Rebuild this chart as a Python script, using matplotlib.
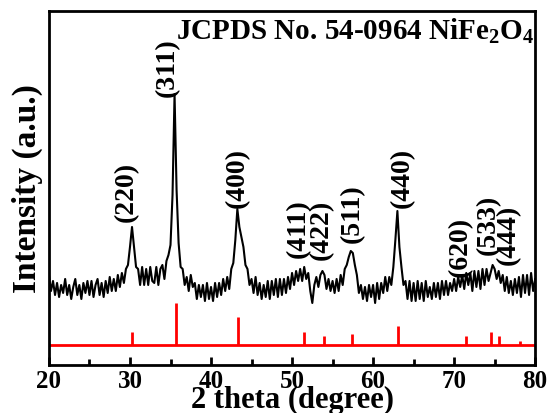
import matplotlib
matplotlib.use('Agg')
import matplotlib.pyplot as plt
import numpy as np

plt.rcParams['font.family'] = 'Liberation Serif'
plt.rcParams['font.weight'] = 'bold'
plt.rcParams['mathtext.fontset'] = 'custom'
plt.rcParams['mathtext.rm'] = 'Liberation Serif:bold'
plt.rcParams['mathtext.bf'] = 'Liberation Serif:bold'
plt.rcParams['mathtext.default'] = 'bf'

# --- datos del difractograma (2 theta de 20 a 80, paso 0.25) ---
two_theta = np.arange(20, 80.001, 0.25)
intensidad = [
    90, 74, 84, 70,   82, 68, 80, 72,   86, 70, 80, 66,   78, 86, 70, 80,
    66, 82, 72, 84,   70, 84, 68, 80,   86, 70, 82, 68,   84, 72, 88, 74,
    86, 74, 90, 78,   92, 82, 96, 100,  118, 138, 118, 98, 96, 80, 98, 80,
    96, 80, 98, 84,   82, 98, 80, 96,   100, 86, 104, 110, 120, 170, 271, 175,
    122, 98, 96, 80,  88, 74, 90, 78,   82, 66, 80, 68,   80, 64, 82, 66,
    78, 64, 82, 68,   82, 70, 86, 74,   88, 76, 96, 102,  125, 156, 138, 128,
    118, 100, 96, 80, 86, 72, 88, 70,   82, 66, 80, 68,   84, 66, 84, 70,
    86, 68, 86, 70,   86, 72, 88, 76,   92, 80, 94, 84,   96, 84, 98, 86,
    92, 74, 62, 80,   88, 78, 90, 94,   90, 76, 86, 74,   84, 72, 86, 74,
    90, 80, 96, 100,  108, 114, 112, 100, 90, 72, 80, 66, 78, 64, 80, 68,
    80, 62, 82, 66,   82, 72, 88, 74,   88, 80, 98, 125,  154, 118, 98, 80,
    84, 66, 84, 64,   82, 64, 84, 66,   82, 64, 84, 68,   78, 66, 82, 68,
    82, 66, 84, 70,   84, 70, 82, 74,   86, 74, 88, 78,   90, 76, 92, 80,
    92, 74, 94, 78,   94, 76, 96, 80,   96, 84, 92, 100,  96, 86, 94, 82,
    90, 74, 88, 72,   84, 70, 86, 72,   88, 68, 90, 72,   90, 70, 92, 74,
    86,
]

# --- patrón de referencia JCPDS 54-0964 ---
ref_pos = [30.3, 35.7, 43.35, 51.5, 53.95, 57.4, 63.05, 71.5, 74.5, 75.6, 78.1]
ref_alt = [13, 42, 28, 13, 9, 11, 19, 9, 13, 9, 4]
ref_base = 20

# --- índices de Miller: posición x, y inferior de la etiqueta ---
hkl = ['(220)', '(311)', '(400)', '(411)', '(422)', '(511)',
       '(440)', '(620)', '(533)', '(444)']
hkl_x = [29.6, 34.6, 43.2, 50.8, 53.6, 57.4, 63.6, 70.8, 74.2, 76.7]
hkl_y = [144, 269, 158, 108, 106, 123, 158, 89, 111, 101]

fig = plt.figure(figsize=(5.5, 4.14), dpi=100)
ax = fig.add_axes([0.089, 0.116, 0.884, 0.855])

ax.plot(two_theta, intensidad, color='black', linewidth=1.5)
ax.vlines(ref_pos, ref_base, [ref_base + h for h in ref_alt], color='red', linewidth=2)
ax.hlines(ref_base, 20, 80, color='red', linewidth=2)

for t, x, y in zip(hkl, hkl_x, hkl_y):
    ax.text(x, y, t, rotation=90, ha='center', va='bottom', fontsize=20, fontweight='bold')

ax.text(0.998, 0.921, r'JCPDS No. 54-0964 NiFe$_2$O$_4$', transform=ax.transAxes,
        ha='right', va='baseline', fontsize=21, fontweight='bold')

ax.set_xlim(20, 80)
ax.set_ylim(0, 354)
ax.set_xticks(range(20, 81, 10))
ax.set_xticks(range(25, 80, 10), minor=True)
ax.set_yticks([])
ax.tick_params(axis='x', which='major', direction='in', length=6, width=2, labelsize=18, pad=3)
ax.tick_params(axis='x', which='minor', direction='in', length=4, width=2)
for lab in ax.get_xticklabels():
    lab.set_fontweight('bold')
for s in ax.spines.values():
    s.set_linewidth(2)

ax.set_xlabel('2 theta (degree)', fontsize=22, fontweight='bold', labelpad=-5)
ax.set_ylabel('Intensity (a.u.)', fontsize=24, fontweight='bold', labelpad=4)

fig.savefig('out.png', dpi=100)
